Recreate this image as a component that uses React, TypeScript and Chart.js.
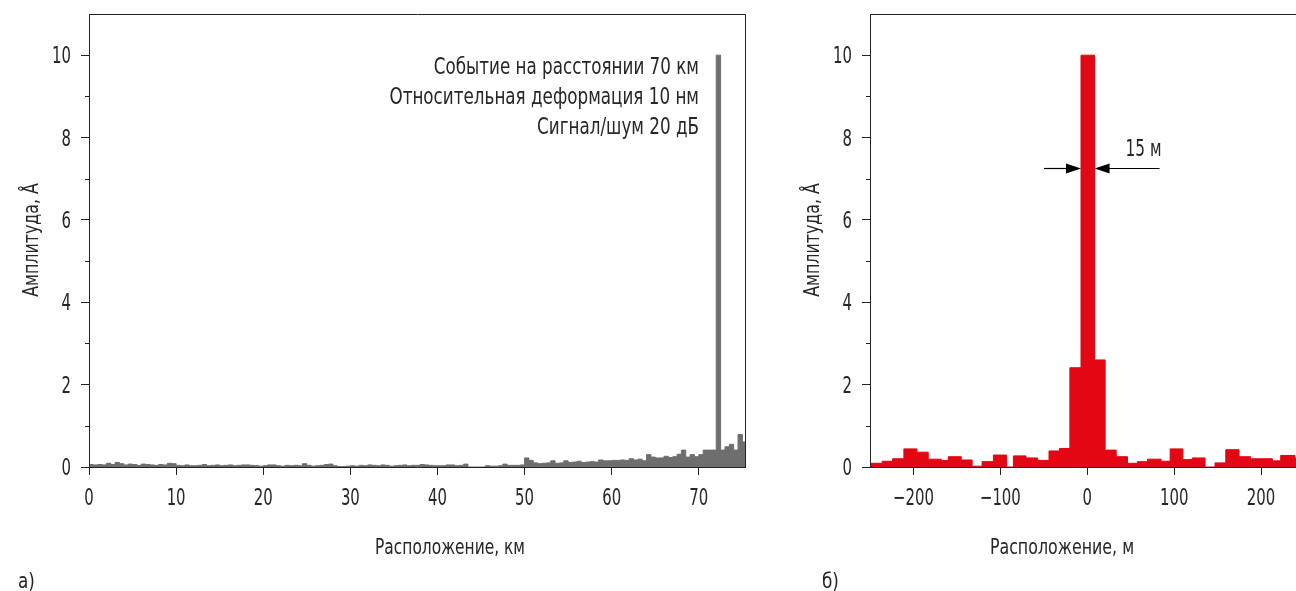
import React, { useEffect, useRef } from 'react';
import { Chart, registerables } from 'chart.js';

Chart.register(...registerables);

const FONT = '"Liberation Sans Narrow", "DejaVu Sans Condensed", "DejaVu Sans", sans-serif';
const TEXT = '#262626';
const AXIS = '#222222';

// ---------- Left chart (a): distance in km ----------
const kmBinWidth = 0.5;
const kmAxisMax = 75.3;
const kmTicks = [0, 10, 20, 30, 40, 50, 60, 70];
const ampTicks = [0, 2, 4, 6, 8, 10];
const ampMinorTicks = [1, 3, 5, 7, 9];
const ampMax = 11;
// amplitude per 0.5 km bin, starting at 0 km
const kmAmplitude = [
  0.06, 0.05, 0.06, 0.05, 0.09, 0.06, 0.11, 0.08, 0.05, 0.07,
  0.06, 0.04, 0.07, 0.06, 0.05, 0.04, 0.06, 0.05, 0.09, 0.08,
  0.04, 0.03, 0.05, 0.03, 0.03, 0.04, 0.06, 0.03, 0.04, 0.05,
  0.03, 0.04, 0.05, 0.03, 0.04, 0.05, 0.05, 0.04, 0.03, 0.02,
  0.03, 0.05, 0.05, 0.03, 0.02, 0.04, 0.03, 0.04, 0.03, 0.08,
  0.04, 0.02, 0.03, 0.04, 0.06, 0.07, 0.03, 0.01, 0.01, 0.02,
  0.03, 0.02, 0.04, 0.03, 0.05, 0.04, 0.03, 0.05, 0.04, 0.02,
  0.03, 0.04, 0.05, 0.03, 0.04, 0.04, 0.06, 0.05, 0.04, 0.03,
  0.03, 0.03, 0.05, 0.05, 0.03, 0.04, 0.07, 0.00, 0.00, 0.00,
  0.00, 0.03, 0.02, 0.02, 0.03, 0.07, 0.04, 0.04, 0.04, 0.05,
  0.22, 0.16, 0.10, 0.08, 0.09, 0.10, 0.15, 0.09, 0.10, 0.15,
  0.11, 0.12, 0.14, 0.11, 0.12, 0.13, 0.12, 0.17, 0.15, 0.15,
  0.16, 0.16, 0.17, 0.16, 0.20, 0.17, 0.19, 0.15, 0.30, 0.24,
  0.22, 0.22, 0.26, 0.23, 0.25, 0.31, 0.41, 0.24, 0.30, 0.25,
  0.30, 0.41, 0.41, 0.41, 10.0, 0.41, 0.49, 0.55, 0.41, 0.79,
  0.61,
];
const eventNotes = [
  'Событие на расстоянии 70 км',
  'Относительная деформация 10 нм',
  'Сигнал/шум 20 дБ',
];

// ---------- Right chart (б): position in m ----------
const mAxisMin = -250;
const mAxisMax = 250;
const mTicks = [-200, -100, 0, 100, 200];
const mBinStarts = [
  -250, -236, -224, -211, -196, -183, -168, -160, -145, -132.5,
  -121, -108, -93, -85, -70.5, -57, -44, -32, -20, -7.2,
  8.4, 20.6, 33.3, 46.3, 57.7, 69.2, 85, 95.4, 110, 121,
  135.6, 147, 159.4, 174.7, 188, 200.7, 213, 222.6, 239,
];
const mAmplitude = [
  0.09, 0.14, 0.20, 0.44, 0.36, 0.19, 0.16, 0.25, 0.17, 0.02,
  0.13, 0.29, 0.00, 0.27, 0.22, 0.16, 0.39, 0.45, 2.41, 10.0,
  2.60, 0.41, 0.25, 0.09, 0.13, 0.19, 0.14, 0.44, 0.18, 0.22,
  0.00, 0.10, 0.42, 0.25, 0.20, 0.20, 0.15, 0.28, 0.21,
];
const peakLeftEdge = -7.2;
const peakRightEdge = 8.4;
const widthArrowLevel = 7.25;
const widthLabel = '15 м';

const ampTitle = 'Амплитуда, Å';
const kmTitle = 'Расположение, км';
const mTitle = 'Расположение, м';
const panelA = 'а)';
const panelB = 'б)';

const fmt = (v: number) => (v < 0 ? '\u2212' + Math.abs(v) : String(v));

function scales(xMin: number, xMax: number, xTicks: number[], yWidth: number) {
  const grid = { drawOnChartArea: false, drawTicks: true, tickLength: 8, color: AXIS, tickColor: AXIS, lineWidth: 1 };
  const border = { display: true, color: AXIS, width: 1 };
  return {
    x: {
      type: 'linear',
      min: xMin,
      max: xMax,
      afterBuildTicks: (s: any) => { s.ticks = xTicks.map((v) => ({ value: v })); },
      afterFit: (s: any) => { s.height = 124; s.paddingLeft = 0; s.paddingRight = 0; },
      grid,
      border,
      ticks: { display: false },
    },
    y: {
      type: 'linear',
      min: 0,
      max: ampMax,
      afterBuildTicks: (s: any) => { s.ticks = ampTicks.map((v) => ({ value: v })); },
      afterFit: (s: any) => { s.width = yWidth; s.paddingTop = 0; s.paddingBottom = 0; },
      grid,
      border,
      ticks: { display: false },
    },
  };
}

function drawText(
  ctx: CanvasRenderingContext2D, text: string, x: number, y: number,
  align: CanvasTextAlign, size: number, sx: number, rotate = false,
) {
  ctx.save();
  ctx.font = `${size}px ${FONT}`;
  ctx.textAlign = align;
  ctx.textBaseline = 'middle';
  ctx.fillStyle = TEXT;
  ctx.translate(rotate ? x + 1 : x, rotate ? y : y + 2);
  if (rotate) ctx.rotate(-Math.PI / 2);
  ctx.scale(sx, 1);
  ctx.fillText(text, 0, 0);
  ctx.restore();
}

function framePlugin(extra: (chart: any, ctx: CanvasRenderingContext2D) => void) {
  return {
    id: 'frame',
    afterDraw(chart: any) {
      const { ctx, chartArea: a, scales: sc } = chart;
      ctx.save();
      ctx.strokeStyle = AXIS;
      ctx.lineWidth = 1;
      ctx.beginPath();
      ctx.moveTo(Math.round(a.left) + 0.5, Math.round(a.bottom) + 0.5);
      ctx.lineTo(Math.round(a.left) + 0.5, Math.round(a.top) + 0.5);
      ctx.lineTo(Math.round(a.right) + 0.5, Math.round(a.top) + 0.5);
      ctx.lineTo(Math.round(a.right) + 0.5, Math.round(a.bottom) + 0.5);
      ctx.stroke();
      // minor y ticks
      ctx.beginPath();
      for (const v of ampMinorTicks) {
        const y = Math.round(sc.y.getPixelForValue(v)) + 0.5;
        ctx.moveTo(a.left - 4, y);
        ctx.lineTo(a.left, y);
      }
      ctx.stroke();
      // tick labels
      for (const t of sc.x.ticks) {
        drawText(ctx, fmt(t.value), sc.x.getPixelForValue(t.value), a.bottom + 30, 'center', 23, 0.72);
      }
      for (const t of sc.y.ticks) {
        drawText(ctx, fmt(t.value), a.left - 18, sc.y.getPixelForValue(t.value), 'right', 23, 0.72);
      }
      extra(chart, ctx);
      ctx.restore();
    },
  };
}

function arrow(ctx: CanvasRenderingContext2D, fromX: number, tipX: number, y: number) {
  const dir = tipX > fromX ? 1 : -1;
  ctx.save();
  ctx.strokeStyle = '#000';
  ctx.fillStyle = '#000';
  ctx.lineWidth = 1.2;
  ctx.beginPath();
  ctx.moveTo(fromX, y);
  ctx.lineTo(tipX - dir * 10, y);
  ctx.stroke();
  ctx.beginPath();
  ctx.moveTo(tipX, y);
  ctx.lineTo(tipX - dir * 15, y - 5);
  ctx.lineTo(tipX - dir * 15, y + 5);
  ctx.closePath();
  ctx.fill();
  ctx.restore();
}

export default function App() {
  const leftRef = useRef<HTMLCanvasElement>(null);
  const rightRef = useRef<HTMLCanvasElement>(null);

  useEffect(() => {
    const leftData = kmAmplitude.map((v, i) => ({ x: i * kmBinWidth, y: v }));
    leftData.push({ x: kmAxisMax, y: kmAmplitude[kmAmplitude.length - 1] });
    const rightData = mBinStarts.map((x, i) => ({ x, y: mAmplitude[i] }));
    rightData.push({ x: mAxisMax, y: mAmplitude[mAmplitude.length - 1] });

    const left = new Chart(leftRef.current!, {
      type: 'line',
      data: {
        datasets: [{
          data: leftData,
          stepped: 'before',
          fill: 'origin',
          backgroundColor: '#6e6e6e',
          borderColor: '#6e6e6e',
          borderWidth: 1,
          pointRadius: 0,
        }],
      },
      options: {
        animation: false,
        responsive: false,
        devicePixelRatio: 1,
        parsing: false,
        layout: { padding: { left: 0, top: 14, right: 25, bottom: 0 } },
        plugins: { legend: { display: false }, tooltip: { enabled: false } },
        scales: scales(0, kmAxisMax, kmTicks, 89) as any,
      },
      plugins: [framePlugin((chart, ctx) => {
        eventNotes.forEach((t, i) => drawText(ctx, t, 699, 66 + i * 30, 'right', 23, 0.81));
        drawText(ctx, ampTitle, 31, 240, 'center', 22, 0.8, true);
        drawText(ctx, kmTitle, 450, 546, 'center', 22, 0.78);
        drawText(ctx, panelA, 18, 580, 'left', 22, 0.85);
      })],
    } as any);

    const right = new Chart(rightRef.current!, {
      type: 'line',
      data: {
        datasets: [{
          data: rightData,
          stepped: 'before',
          fill: 'origin',
          backgroundColor: '#e30613',
          borderColor: '#e30613',
          borderWidth: 1,
          pointRadius: 0,
        }],
      },
      options: {
        animation: false,
        responsive: false,
        devicePixelRatio: 1,
        parsing: false,
        layout: { padding: { left: 0, top: 14, right: 35.5, bottom: 0 } },
        plugins: { legend: { display: false }, tooltip: { enabled: false } },
        scales: scales(mAxisMin, mAxisMax, mTicks, 90) as any,
      },
      plugins: [framePlugin((chart, ctx) => {
        const sx = chart.scales.x;
        const sy = chart.scales.y;
        const y = Math.round(sy.getPixelForValue(widthArrowLevel)) + 0.5;
        const lx = sx.getPixelForValue(peakLeftEdge);
        const rx = sx.getPixelForValue(peakRightEdge);
        arrow(ctx, lx - 37, lx, y);
        arrow(ctx, rx + 65, rx, y);
        drawText(ctx, widthLabel, rx + 31, y - 20, 'left', 23, 0.74);
        drawText(ctx, ampTitle, 32, 240, 'center', 22, 0.8, true);
        drawText(ctx, mTitle, 282, 546, 'center', 22, 0.8);
        drawText(ctx, panelB, 42, 580, 'left', 22, 0.85);
      })],
    } as any);

    return () => {
      left.destroy();
      right.destroy();
    };
  }, []);

  return (
    <div style={{ position: 'fixed', left: 0, top: 0, width: 1296, height: 591, overflow: 'hidden', background: '#fff' }}>
      <canvas ref={leftRef} width={770} height={591} style={{ position: 'absolute', left: 0, top: 0, width: 770, height: 591 }} />
      <canvas ref={rightRef} width={560} height={591} style={{ position: 'absolute', left: 780, top: 0, width: 560, height: 591 }} />
    </div>
  );
}
